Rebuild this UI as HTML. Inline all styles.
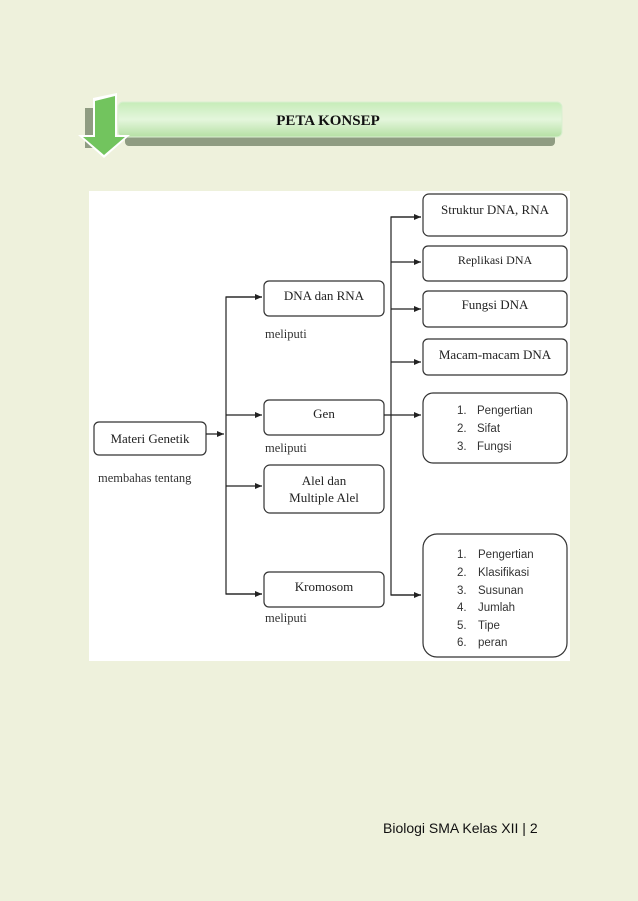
<!DOCTYPE html>
<html><head><meta charset="utf-8"><style>
html,body{margin:0;padding:0;background:#eef1dc;}
svg{display:block}
</style></head><body>
<svg width="638" height="901" viewBox="0 0 638 901" xmlns="http://www.w3.org/2000/svg" font-family="Liberation Serif, serif">
<defs>
<linearGradient id="bar" x1="0" y1="0" x2="0" y2="1">
<stop offset="0" stop-color="#c6ecb8"/><stop offset="0.5" stop-color="#e4f6dc"/><stop offset="1" stop-color="#b5e0a4"/>
</linearGradient>
<marker id="a" markerWidth="8" markerHeight="6" refX="7" refY="3" orient="auto" markerUnits="userSpaceOnUse">
<path d="M0,0 L7,3 L0,6 Z" fill="#222"/></marker>
</defs>
<rect width="638" height="901" fill="#eef1dc"/>
<!-- header -->
<rect x="125" y="110" width="430" height="36" rx="4" fill="#8f9c82"/>
<rect x="118" y="102" width="444" height="35" rx="5" fill="url(#bar)" stroke="#d9efd0"/>
<text x="328" y="125" font-size="15" font-weight="bold" text-anchor="middle" fill="#111">PETA KONSEP</text>
<rect x="85" y="108" width="10" height="40" fill="#8f9c82"/>
<path d="M93,98 L117,93 L117,135 L130,135 L104,158 L78,135 L93,135 Z" fill="#fff"/>
<path d="M95,101 L115,96 L115,137 L125,137 L104,155 L83,137 L95,137 Z" fill="#72c45e"/>
<!-- diagram area -->
<rect x="89" y="191" width="481" height="470" fill="#fff"/>
<g fill="#fff" stroke="#333" stroke-width="1.2">
<rect x="94" y="422" width="112" height="33" rx="5"/>
<rect x="264" y="281" width="120" height="35" rx="5"/>
<rect x="264" y="400" width="120" height="35" rx="5"/>
<rect x="264" y="465" width="120" height="48" rx="6"/>
<rect x="264" y="572" width="120" height="35" rx="5"/>
<rect x="423" y="194" width="144" height="42" rx="6"/>
<rect x="423" y="246" width="144" height="35" rx="5"/>
<rect x="423" y="291" width="144" height="36" rx="5"/>
<rect x="423" y="339" width="144" height="36" rx="5"/>
<rect x="423" y="393" width="144" height="70" rx="10"/>
<rect x="423" y="534" width="144" height="123" rx="14"/>
</g>
<g stroke="#222" stroke-width="1.2" fill="none">
<line x1="206" y1="434" x2="224" y2="434" marker-end="url(#a)"/>
<polyline points="262,297 226,297 226,594 262,594" />
<line x1="226" y1="297" x2="262" y2="297" marker-end="url(#a)"/>
<line x1="226" y1="415" x2="262" y2="415" marker-end="url(#a)"/>
<line x1="226" y1="486" x2="262" y2="486" marker-end="url(#a)"/>
<line x1="226" y1="594" x2="262" y2="594" marker-end="url(#a)"/>
<polyline points="421,217 391,217 391,595 421,595"/>
<line x1="391" y1="217" x2="421" y2="217" marker-end="url(#a)"/>
<line x1="391" y1="262" x2="421" y2="262" marker-end="url(#a)"/>
<line x1="391" y1="309" x2="421" y2="309" marker-end="url(#a)"/>
<line x1="391" y1="362" x2="421" y2="362" marker-end="url(#a)"/>
<line x1="384" y1="415" x2="421" y2="415" marker-end="url(#a)"/>
<line x1="391" y1="595" x2="421" y2="595" marker-end="url(#a)"/>
</g>
<g font-size="13" fill="#222" text-anchor="middle">
<text x="150" y="443">Materi Genetik</text>
<text x="324" y="300">DNA dan RNA</text>
<text x="324" y="418">Gen</text>
<text x="324" y="485">Alel dan</text>
<text x="324" y="502">Multiple Alel</text>
<text x="324" y="591">Kromosom</text>
<text x="495" y="214">Struktur DNA, RNA</text>
<text x="495" y="264" font-size="12">Replikasi DNA</text>
<text x="495" y="309">Fungsi DNA</text>
<text x="495" y="359">Macam-macam DNA</text>
</g>
<g font-size="12.5" fill="#333">
<text x="265" y="338">meliputi</text>
<text x="265" y="452">meliputi</text>
<text x="265" y="622">meliputi</text>
<text x="98" y="482">membahas tentang</text>
</g>
<g font-family="Liberation Sans, sans-serif" font-size="11.5" fill="#333">
<text x="457" y="414">1.</text><text x="477" y="414">Pengertian</text>
<text x="457" y="432">2.</text><text x="477" y="432">Sifat</text>
<text x="457" y="450">3.</text><text x="477" y="450">Fungsi</text>
<text x="457" y="558">1.</text><text x="478" y="558">Pengertian</text>
<text x="457" y="576">2.</text><text x="478" y="576">Klasifikasi</text>
<text x="457" y="594">3.</text><text x="478" y="594">Susunan</text>
<text x="457" y="611">4.</text><text x="478" y="611">Jumlah</text>
<text x="457" y="629">5.</text><text x="478" y="629">Tipe</text>
<text x="457" y="646">6.</text><text x="478" y="646">peran</text>
</g>
<text x="383" y="833" font-family="Liberation Sans, sans-serif" font-size="14" fill="#111">Biologi SMA Kelas XII | 2</text>
</svg>
</body></html>
